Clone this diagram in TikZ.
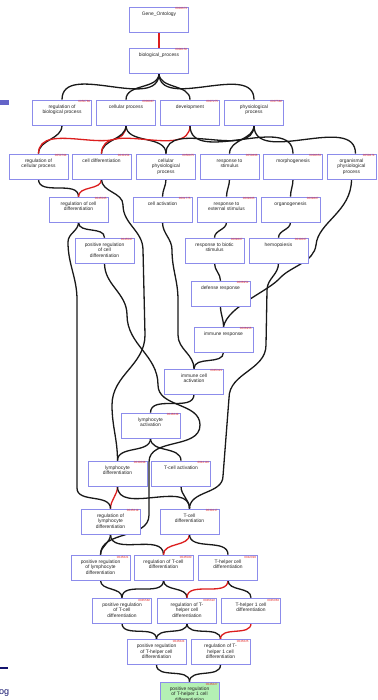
\documentclass[tikz,border=0pt]{standalone}
\usepackage{fontspec}
\setmainfont{Liberation Sans}
\usetikzlibrary{backgrounds}
\definecolor{boxblue}{RGB}{140,140,235}
\definecolor{idred}{RGB}{230,40,40}
\definecolor{edgered}{RGB}{220,30,30}
\definecolor{greenfill}{RGB}{180,240,180}
\definecolor{barblue}{RGB}{100,100,200}
\definecolor{navy}{RGB}{20,20,110}
\tikzset{
  term/.style={draw=boxblue, fill=white, line width=0.6pt, minimum width=59pt, minimum height=25pt, inner sep=0pt},
  lbl/.style={font=\fontsize{4.9}{5.4}\selectfont, align=center, inner sep=0pt, text=black!85},
  gid/.style={font=\fontsize{3}{3}\selectfont, text=idred, inner sep=0pt},
  edge/.style={line width=1.3pt, black!90},
  redge/.style={line width=1.3pt, edgered},
}
\newcommand\goterm[6][]{%
  \node[term,#1] (#2) at (#3,#4) {};
  \node[lbl, anchor=north] (#2-t) at ([yshift=-5pt]#2.north) {#6};
  \node[gid, anchor=north east] (#2-id) at ([xshift=-1.5pt,yshift=-1pt]#2.north east) {#5};
}
\begin{document}
\begin{tikzpicture}[x=1pt,y=-1pt]
\useasboundingbox (0,0) rectangle (377,700);
% nodes
\goterm{go}{159}{19.5}{0003673}{Gene\_Ontology}
\goterm{bp}{159}{60.5}{0008150}{biological\_process}
\goterm{regbio}{62}{112.5}{0050789}{regulation of\\biological process}
\goterm{cellproc}{126}{112.5}{0009987}{cellular process}
\goterm{dev}{190}{112.5}{0007275}{development}
\goterm{physproc}{254}{112.5}{0007582}{physiological\\process}
\goterm{regcell}{38.5}{166.5}{0050794}{regulation of\\cellular process}
\goterm{celldiff}{101.5}{166.5}{0030154}{cell differentiation}
\goterm{cellphys}{166}{166.5}{0050875}{cellular\\physiological\\process}
\goterm{respstim}{229.5}{166.5}{0050896}{response to\\stimulus}
\goterm{morpho}{293}{166.5}{0009653}{morphogenesis}
\goterm[minimum width=49pt]{organis}{351.5}{166.5}{0050874}{organismal\\physiological\\process}
\goterm{regcelldiff}{78.5}{209.5}{0045595}{regulation of cell\\differentiation}
\goterm{cellact}{162.5}{209.5}{0001775}{cell activation}
\goterm{respext}{226.5}{209.5}{0009605}{response to\\external stimulus}
\goterm{organo}{290.5}{209.5}{0009887}{organogenesis}
\goterm{posregcelldiff}{104.5}{250.5}{0045597}{positive regulation\\of cell\\differentiation}
\goterm{respbio}{214.5}{250.5}{0009607}{response to biotic\\stimulus}
\goterm{hemo}{278.5}{250.5}{0030097}{hemopoiesis}
\goterm{defense}{220.5}{293.5}{0006952}{defense response}
\goterm{immresp}{223.5}{339.5}{0006955}{immune response}
\goterm{immcellact}{194}{381.5}{0045321}{immune cell\\activation}
\goterm{lymact}{150.5}{425.5}{0046649}{lymphocyte\\activation}
\goterm{lymdiff}{117.5}{473.5}{0030098}{lymphocyte\\differentiation}
\goterm{tcellact}{181}{473.5}{0042110}{T-cell activation}
\goterm{reglymdiff}{110.5}{521.5}{0045619}{regulation of\\lymphocyte\\differentiation}
\goterm{tcelldiff}{189.5}{521.5}{0030217}{T-cell\\differentiation}
\goterm{posreglymdiff}{100.5}{567.5}{0045621}{positive regulation\\of lymphocyte\\differentiation}
\goterm{regtcelldiff}{163.5}{567.5}{0045580}{regulation of T-cell\\differentiation}
\goterm{thdiff}{228}{567.5}{0042093}{T-helper cell\\differentiation}
\goterm{posregtcell}{122}{610.5}{0045582}{positive regulation\\of T-cell\\differentiation}
\goterm{regth}{187}{610.5}{0045622}{regulation of T-\\helper cell\\differentiation}
\goterm{thone}{251}{610.5}{0045063}{T-helper 1 cell\\differentiation}
\goterm{posregth}{156.5}{652}{0045624}{positive regulation\\of T-helper cell\\differentiation}
\goterm{regthone}{220.5}{652}{0045625}{regulation of T-\\helper 1 cell\\differentiation}
\goterm[fill=greenfill]{posregthone}{189.5}{694.5}{0045627}{positive regulation\\of T-helper 1 cell\\differentiation}
% slide decorations
\fill[barblue] (0,100) rectangle (9,105);
\fill[navy] (0,666.5) rectangle (8,669);
\node[anchor=west, inner sep=0pt, text=navy, font=\fontsize{9}{9}\selectfont] (slidetxt) at (-1,693) {og};
\begin{scope}[on background layer]
\fill[white] (0,0) rectangle (377,700);
% ---- edges ----
\draw[redge] (go.south) -- (bp.north);
\foreach \c in {regbio,cellproc,dev,physproc}{\draw[edge] (bp.south) to[out=270,in=90] (\c.north);}
\draw[edge] (regbio.south) to[out=270,in=90] (regcell.north);
\draw[redge] (cellproc.south) to[out=270,in=90] (regcell.north);
\draw[edge] (cellproc.south) to[out=270,in=90] (celldiff.north);
\draw[edge] (cellproc.south) to[out=270,in=90] (cellphys.north);
\draw[redge] (dev.south) to[out=270,in=90] (celldiff.north);
\draw[edge] (dev.south) to[out=270,in=90] (morpho.north);
\draw[edge] (physproc.south) to[out=270,in=90] (cellphys.north);
\draw[edge] (physproc.south) to[out=270,in=90] (respstim.north);
\draw[edge] (physproc.south) to[out=270,in=90] ([xshift=4pt]organis.north);
\draw[edge] (regcell.south) to[out=270,in=90] (regcelldiff.north);
\draw[redge] (celldiff.south) to[out=270,in=90] (regcelldiff.north);
\draw[edge] (cellphys.south) to[out=270,in=90] (cellact.north);
\draw[edge] (respstim.south) to[out=270,in=90] (respext.north);
\draw[edge] (morpho.south) to[out=270,in=90] (organo.north);
\draw[edge] (regcelldiff.south) to[out=270,in=90] (posregcelldiff.north);
\draw[edge] (respext.south) to[out=270,in=90] (respbio.north);
\draw[edge] (organo.south) to[out=270,in=90] (hemo.north);
\draw[edge] (respbio.south) to[out=270,in=90] (defense.north);
\draw[edge] (defense.south) to[out=270,in=90] (immresp.north);
\draw[edge] (immresp.south) to[out=270,in=90] (immcellact.north);
\draw[edge] (immcellact.south) to[out=270,in=90] (lymact.north);
\draw[edge] (lymact.south) to[out=270,in=90] (lymdiff.north);
\draw[edge] (lymact.south) to[out=270,in=90] (tcellact.north);
\draw[redge] (lymdiff.south) to[out=270,in=90] (reglymdiff.north);
\draw[edge] (lymdiff.south) to[out=270,in=90] (tcelldiff.north);
\draw[edge] (tcellact.south) to[out=270,in=90] (tcelldiff.north);
\draw[edge] (reglymdiff.south) to[out=270,in=90] (posreglymdiff.north);
\draw[edge] (reglymdiff.south) to[out=270,in=90] (regtcelldiff.north);
\draw[redge] (tcelldiff.south) to[out=270,in=90] (regtcelldiff.north);
\draw[edge] (tcelldiff.south) to[out=270,in=90] (thdiff.north);
\draw[edge] (posreglymdiff.south) to[out=270,in=90] (posregtcell.north);
\draw[edge] (regtcelldiff.south) to[out=270,in=90] (posregtcell.north);
\draw[edge] (regtcelldiff.south) to[out=270,in=90] (regth.north);
\draw[redge] (thdiff.south) to[out=270,in=90] (regth.north);
\draw[edge] (thdiff.south) to[out=270,in=90] (thone.north);
\draw[edge] (posregtcell.south) to[out=270,in=90] (posregth.north);
\draw[edge] (regth.south) to[out=270,in=90] (posregth.north);
\draw[edge] (regth.south) to[out=270,in=90] (regthone.north);
\draw[redge] (thone.south) to[out=270,in=90] (regthone.north);
\draw[edge] (posregth.south) to[out=270,in=90] (posregthone.north);
\draw[edge] (regthone.south) to[out=270,in=90] (posregthone.north);
% long edges
\draw[edge] (regcelldiff.south) to[out=270,in=90] (68,242) to[out=270,in=90] (77,300) -- (77,488) to[out=270,in=90] (reglymdiff.north);
\draw[edge] (posregcelldiff.south) to[out=270,in=90] (127,315) to[out=270,in=90] (158,385) to[out=270,in=90] (200,425) to[out=270,in=90] (149,462) -- (149,515) to[out=270,in=90] (posreglymdiff.north);
\draw[edge] (celldiff.south) to[out=270,in=90] (123,205) to[out=270,in=90] (143,250) -- (145,335) to[out=270,in=90] (112,405) to[out=270,in=90] (lymdiff.north);
\draw[edge] (cellact.south) to[out=270,in=90] (172,250) to[out=270,in=90] (178,300) -- (178,335) to[out=270,in=90] (immcellact.north);
\draw[edge] (organis.south) .. controls (351.5,212) and (318,222) .. (316,245) .. controls (314,262) and (292,266) .. (281,277) .. controls (268,292) and (228,306) .. (immresp.north);
\draw[edge] (hemo.south) to[out=270,in=90] (267,290) -- (266,345) to[out=270,in=90] (229,398) -- (223,476) to[out=270,in=90] (tcelldiff.north);
\end{scope}
\end{tikzpicture}
\end{document}
